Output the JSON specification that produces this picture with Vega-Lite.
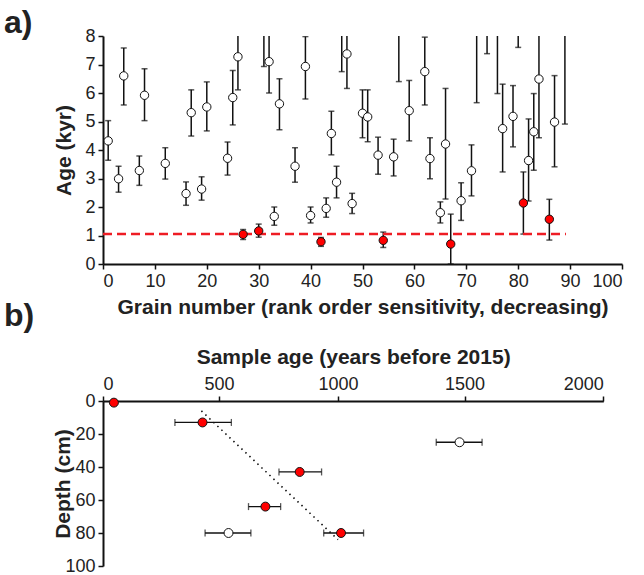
{
  "$schema": "https://vega.github.io/schema/vega-lite/v6.json",
  "padding": {"left": 4, "top": 7, "right": 10, "bottom": 5},
  "background": "white",
  "config": {
    "font": "Liberation Sans",
    "view": {"stroke": null},
    "axis": {
      "grid": false,
      "domainColor": "#111",
      "domainWidth": 2,
      "tickColor": "#111",
      "tickWidth": 1.5,
      "tickSize": 5,
      "labelFontSize": 18,
      "labelColor": "#222",
      "labelOverlap": false,
      "titleFontSize": 21,
      "titleFontWeight": "bold",
      "titleColor": "#222",
      "labelPadding": 3
    },
    "title": {"fontSize": 32, "fontWeight": "bold", "color": "#222", "anchor": "start", "frame": "group"}
  },
  "datasets": {
    "grains": [
      {"grain": 1, "age": 4.32, "lo": 3.64, "hi": 5.03, "type": "w"},
      {"grain": 3, "age": 2.99, "lo": 2.52, "hi": 3.43, "type": "w"},
      {"grain": 4, "age": 6.60, "lo": 5.58, "hi": 7.58, "type": "w"},
      {"grain": 7, "age": 3.28, "lo": 2.76, "hi": 3.79, "type": "w"},
      {"grain": 8, "age": 5.92, "lo": 5.03, "hi": 6.85, "type": "w"},
      {"grain": 12, "age": 3.53, "lo": 2.98, "hi": 4.08, "type": "w"},
      {"grain": 16, "age": 2.47, "lo": 2.06, "hi": 2.88, "type": "w"},
      {"grain": 17, "age": 5.31, "lo": 4.49, "hi": 6.11, "type": "w"},
      {"grain": 19, "age": 2.63, "lo": 2.24, "hi": 3.06, "type": "w"},
      {"grain": 20, "age": 5.51, "lo": 4.67, "hi": 6.39, "type": "w"},
      {"grain": 24, "age": 3.71, "lo": 3.12, "hi": 4.28, "type": "w"},
      {"grain": 25, "age": 5.84, "lo": 4.88, "hi": 6.79, "type": "w"},
      {"grain": 26, "age": 7.27, "lo": 6.11, "hi": 8.5, "type": "w"},
      {"grain": 27, "age": 1.04, "lo": 0.86, "hi": 1.21, "type": "r"},
      {"grain": 30, "age": 1.16, "lo": 0.94, "hi": 1.40, "type": "r"},
      {"grain": 31, "age": 9.0, "lo": 6.93, "hi": 11.0, "type": "w"},
      {"grain": 32, "age": 7.10, "lo": 6.00, "hi": 8.3, "type": "w"},
      {"grain": 33, "age": 1.67, "lo": 1.36, "hi": 2.00, "type": "w"},
      {"grain": 34, "age": 5.62, "lo": 4.71, "hi": 6.50, "type": "w"},
      {"grain": 37, "age": 3.43, "lo": 2.87, "hi": 4.08, "type": "w"},
      {"grain": 39, "age": 6.93, "lo": 5.79, "hi": 7.98, "type": "w"},
      {"grain": 40, "age": 1.70, "lo": 1.44, "hi": 2.00, "type": "w"},
      {"grain": 42, "age": 0.78, "lo": 0.62, "hi": 0.93, "type": "r"},
      {"grain": 43, "age": 1.95, "lo": 1.64, "hi": 2.32, "type": "w"},
      {"grain": 44, "age": 4.58, "lo": 3.83, "hi": 5.36, "type": "w"},
      {"grain": 45, "age": 2.87, "lo": 2.32, "hi": 3.43, "type": "w"},
      {"grain": 46, "age": 9.0, "lo": 6.75, "hi": 11.0, "type": "w"},
      {"grain": 47, "age": 7.37, "lo": 6.16, "hi": 8.5, "type": "w"},
      {"grain": 48, "age": 2.12, "lo": 1.77, "hi": 2.48, "type": "w"},
      {"grain": 50, "age": 5.29, "lo": 4.43, "hi": 6.11, "type": "w"},
      {"grain": 51, "age": 5.16, "lo": 4.29, "hi": 6.11, "type": "w"},
      {"grain": 53, "age": 3.82, "lo": 3.15, "hi": 4.45, "type": "w"},
      {"grain": 54, "age": 0.83, "lo": 0.58, "hi": 1.12, "type": "r"},
      {"grain": 56, "age": 3.76, "lo": 3.09, "hi": 4.38, "type": "w"},
      {"grain": 57, "age": 9.0, "lo": 6.40, "hi": 11.0, "type": "w"},
      {"grain": 59, "age": 5.38, "lo": 4.32, "hi": 6.44, "type": "w"},
      {"grain": 62, "age": 6.75, "lo": 5.58, "hi": 7.96, "type": "w"},
      {"grain": 63, "age": 3.70, "lo": 2.99, "hi": 4.43, "type": "w"},
      {"grain": 65, "age": 1.80, "lo": 1.44, "hi": 2.18, "type": "w"},
      {"grain": 66, "age": 4.21, "lo": 2.28, "hi": 6.16, "type": "w"},
      {"grain": 67, "age": 0.70, "lo": 0.0, "hi": 1.75, "type": "r"},
      {"grain": 69, "age": 2.22, "lo": 1.53, "hi": 2.85, "type": "w"},
      {"grain": 71, "age": 3.27, "lo": 2.39, "hi": 4.18, "type": "w"},
      {"grain": 72, "age": 9.0, "lo": 5.66, "hi": 11.0, "type": "w"},
      {"grain": 74, "age": 9.0, "lo": 7.38, "hi": 11.0, "type": "w"},
      {"grain": 76, "age": 9.0, "lo": 5.98, "hi": 11.0, "type": "w"},
      {"grain": 77, "age": 4.75, "lo": 3.23, "hi": 6.31, "type": "w"},
      {"grain": 79, "age": 5.18, "lo": 4.11, "hi": 6.26, "type": "w"},
      {"grain": 80, "age": 9.0, "lo": 7.60, "hi": 11.0, "type": "w"},
      {"grain": 81, "age": 2.14, "lo": 1.05, "hi": 3.23, "type": "r"},
      {"grain": 82, "age": 3.63, "lo": 2.21, "hi": 5.09, "type": "w"},
      {"grain": 83, "age": 4.64, "lo": 3.29, "hi": 5.98, "type": "w"},
      {"grain": 84, "age": 6.49, "lo": 4.43, "hi": 8.6, "type": "w"},
      {"grain": 86, "age": 1.57, "lo": 0.84, "hi": 2.27, "type": "r"},
      {"grain": 87, "age": 4.98, "lo": 3.41, "hi": 6.61, "type": "w"},
      {"grain": 89, "age": 9.0, "lo": 4.91, "hi": 11.0, "type": "w"}
    ],
    "threshold": [{"x": 0, "x2": 89.2, "y": 1.05}],
    "samples": [
      {"age": 47, "depth": 1, "lo": null, "hi": null, "type": "r"},
      {"age": 429, "depth": 13, "lo": 310, "hi": 552, "type": "r"},
      {"age": 1480, "depth": 25, "lo": 1388, "hi": 1563, "type": "w"},
      {"age": 839, "depth": 43, "lo": 752, "hi": 931, "type": "r"},
      {"age": 695, "depth": 64, "lo": 624, "hi": 759, "type": "r"},
      {"age": 540, "depth": 80, "lo": 440, "hi": 634, "type": "w"},
      {"age": 1012, "depth": 80, "lo": 940, "hi": 1101, "type": "r"}
    ],
    "trend": [{"age": 424, "depth": 6}, {"age": 1000, "depth": 84}]
  },
  "vconcat": [
    {
      "title": {"text": "a)", "dx": -99, "dy": 17},
      "width": 519,
      "height": 228,
      "layer": [
        {
          "data": {"name": "grains"},
          "mark": {"type": "rule", "clip": true, "color": "#111", "strokeWidth": 1.5},
          "encoding": {
            "x": {"field": "grain", "type": "quantitative", "scale": {"domain": [0, 100], "nice": false},
              "axis": {"values": [0, 10, 20, 30, 40, 50, 60, 70, 80, 90, 100], "title": "Grain number (rank order sensitivity, decreasing)", "titlePadding": 6}},
            "y": {"field": "lo", "type": "quantitative", "scale": {"domain": [0, 8], "nice": false},
              "axis": {"values": [0, 1, 2, 3, 4, 5, 6, 7, 8], "title": "Age (kyr)", "titlePadding": 10}},
            "y2": {"field": "hi"}
          }
        },
        {
          "data": {"name": "grains"},
          "mark": {"type": "tick", "orient": "horizontal", "clip": true, "color": "#111", "size": 6, "thickness": 1.5},
          "encoding": {
            "x": {"field": "grain", "type": "quantitative",
              "axis": {"values": [0, 10, 20, 30, 40, 50, 60, 70, 80, 90, 100], "title": "Grain number (rank order sensitivity, decreasing)", "titlePadding": 6}},
            "y": {"field": "lo", "type": "quantitative",
              "axis": {"values": [0, 1, 2, 3, 4, 5, 6, 7, 8], "title": "Age (kyr)", "titlePadding": 10}}
          }
        },
        {
          "data": {"name": "grains"},
          "mark": {"type": "tick", "orient": "horizontal", "clip": true, "color": "#111", "size": 6, "thickness": 1.5},
          "encoding": {
            "x": {"field": "grain", "type": "quantitative",
              "axis": {"values": [0, 10, 20, 30, 40, 50, 60, 70, 80, 90, 100], "title": "Grain number (rank order sensitivity, decreasing)", "titlePadding": 6}},
            "y": {"field": "hi", "type": "quantitative",
              "axis": {"values": [0, 1, 2, 3, 4, 5, 6, 7, 8], "title": "Age (kyr)", "titlePadding": 10}}
          }
        },
        {
          "data": {"name": "threshold"},
          "mark": {"type": "rule", "color": "#ee1c24", "strokeWidth": 2.5, "strokeDash": [9, 5]},
          "encoding": {
            "x": {"field": "x", "type": "quantitative",
              "axis": {"values": [0, 10, 20, 30, 40, 50, 60, 70, 80, 90, 100], "title": "Grain number (rank order sensitivity, decreasing)", "titlePadding": 6}},
            "x2": {"field": "x2"},
            "y": {"field": "y", "type": "quantitative",
              "axis": {"values": [0, 1, 2, 3, 4, 5, 6, 7, 8], "title": "Age (kyr)", "titlePadding": 10}}
          }
        },
        {
          "data": {"name": "grains"},
          "mark": {"type": "point", "shape": "circle", "filled": true, "clip": true, "size": 70, "stroke": "#111", "strokeWidth": 1, "opacity": 1},
          "encoding": {
            "x": {"field": "grain", "type": "quantitative",
              "axis": {"values": [0, 10, 20, 30, 40, 50, 60, 70, 80, 90, 100], "title": "Grain number (rank order sensitivity, decreasing)", "titlePadding": 6}},
            "y": {"field": "age", "type": "quantitative",
              "axis": {"values": [0, 1, 2, 3, 4, 5, 6, 7, 8], "title": "Age (kyr)", "titlePadding": 10}},
            "fill": {"field": "type", "type": "nominal", "scale": {"domain": ["w", "r"], "range": ["#ffffff", "#ff0000"]}, "legend": null}
          }
        }
      ]
    },
    {
      "title": {"text": "b)", "dx": -99, "dy": -9},
      "width": 500,
      "height": 165,
      "layer": [
        {
          "data": {"name": "trend"},
          "mark": {"type": "line", "color": "#111", "strokeWidth": 1.6, "strokeDash": [1.5, 4]},
          "encoding": {
            "x": {"field": "age", "type": "quantitative",
              "scale": {"domain": [0, 500, 1000, 1500, 2000], "range": [0, 116, 235, 361.6, 500.3], "nice": false},
              "axis": {"orient": "top", "values": [0, 500, 1000, 1500, 2000], "format": "d", "title": "Sample age (years before  2015)", "titlePadding": 8}},
            "y": {"field": "depth", "type": "quantitative", "scale": {"domain": [0, 100], "reverse": true, "nice": false},
              "axis": {"values": [0, 20, 40, 60, 80, 100], "title": "Depth (cm)", "titlePadding": -9}}
          }
        },
        {
          "data": {"name": "samples"},
          "mark": {"type": "rule", "color": "#111", "strokeWidth": 1.3},
          "encoding": {
            "x": {"field": "lo", "type": "quantitative",
              "axis": {"orient": "top", "values": [0, 500, 1000, 1500, 2000], "format": "d", "title": "Sample age (years before  2015)", "titlePadding": 8}},
            "x2": {"field": "hi"},
            "y": {"field": "depth", "type": "quantitative",
              "axis": {"values": [0, 20, 40, 60, 80, 100], "title": "Depth (cm)", "titlePadding": -9}}
          }
        },
        {
          "data": {"name": "samples"},
          "mark": {"type": "tick", "orient": "vertical", "color": "#111", "size": 7, "thickness": 1.3},
          "encoding": {
            "x": {"field": "lo", "type": "quantitative",
              "axis": {"orient": "top", "values": [0, 500, 1000, 1500, 2000], "format": "d", "title": "Sample age (years before  2015)", "titlePadding": 8}},
            "y": {"field": "depth", "type": "quantitative",
              "axis": {"values": [0, 20, 40, 60, 80, 100], "title": "Depth (cm)", "titlePadding": -9}}
          }
        },
        {
          "data": {"name": "samples"},
          "mark": {"type": "tick", "orient": "vertical", "color": "#111", "size": 7, "thickness": 1.3},
          "encoding": {
            "x": {"field": "hi", "type": "quantitative",
              "axis": {"orient": "top", "values": [0, 500, 1000, 1500, 2000], "format": "d", "title": "Sample age (years before  2015)", "titlePadding": 8}},
            "y": {"field": "depth", "type": "quantitative",
              "axis": {"values": [0, 20, 40, 60, 80, 100], "title": "Depth (cm)", "titlePadding": -9}}
          }
        },
        {
          "data": {"name": "samples"},
          "mark": {"type": "point", "shape": "circle", "filled": true, "size": 80, "stroke": "#111", "strokeWidth": 1, "opacity": 1},
          "encoding": {
            "x": {"field": "age", "type": "quantitative",
              "axis": {"orient": "top", "values": [0, 500, 1000, 1500, 2000], "format": "d", "title": "Sample age (years before  2015)", "titlePadding": 8}},
            "y": {"field": "depth", "type": "quantitative",
              "axis": {"values": [0, 20, 40, 60, 80, 100], "title": "Depth (cm)", "titlePadding": -9}},
            "fill": {"field": "type", "type": "nominal", "scale": {"domain": ["w", "r"], "range": ["#ffffff", "#ff0000"]}, "legend": null}
          }
        }
      ]
    }
  ],
  "spacing": 137,
  "bounds": "flush"
}
